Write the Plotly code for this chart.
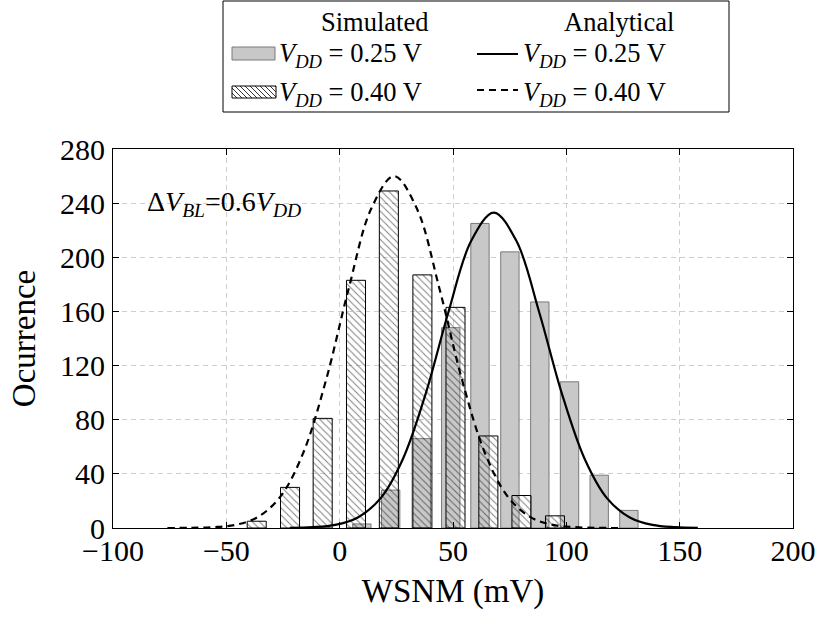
import plotly.graph_objects as go

# simulated histograms (bin centre in mV, count)
sim_x_025 = [9.8, 22.5, 36.0, 49.0, 61.9, 75.1, 88.3, 101.4, 114.5, 127.6]
sim_y_025 = [3, 28, 66, 148, 225, 204, 167, 108, 39, 13]
sim_x_040 = [-36.6, -21.9, -7.5, 7.2, 21.7, 36.5, 51.1, 65.6, 80.2, 95.0]
sim_y_040 = [5, 30, 81, 183, 249, 187, 163, 68, 24, 9]

# analytical curves
ana_x_025 = [-22, -12, -2, 8, 18, 28, 38, 48, 58, 68, 78, 88, 98, 108, 118, 128, 138, 148, 158]
ana_y_025 = [0.1, 0.6, 2.3, 7.8, 21.9, 51.4, 99.5, 159.6, 212.0, 233, 212.0, 159.6, 99.5, 51.4,
             21.9, 7.8, 2.3, 0.6, 0.1]
ana_x_040 = [-76, -66, -56, -46, -36, -26, -16, -6, 4, 14, 24, 34, 44, 54, 64, 74, 84, 94, 104, 114, 124]
ana_y_040 = [0.0, 0.1, 0.6, 2.3, 8.2, 23.5, 55.8, 109.4, 177.0, 236.2, 260, 236.2, 177.0, 109.4,
             55.8, 23.5, 8.2, 2.3, 0.6, 0.1, 0.0]

x_ticks = [-100, -50, 0, 50, 100, 150, 200]
x_tick_labels = ["\u2212100", "\u221250", "0", "50", "100", "150", "200"]
y_ticks = [0, 40, 80, 120, 160, 200, 240, 280]

FONT = "'Liberation Serif', 'Times New Roman', Times, serif"

# plot area in pixels (used to place the hand made legend)
L, R, T, B = 113, 793, 149, 528
W, H = R - L, B - T


def px(x):
    return (x - L) / W


def py(y):
    return (B - y) / H


fig = go.Figure()

fig.add_trace(go.Bar(
    x=sim_x_025, y=sim_y_025, width=8.1,
    marker=dict(color="#c8c8c8", line=dict(color="#7a7a7a", width=1)),
    showlegend=False
))

fig.add_trace(go.Bar(
    x=sim_x_040, y=sim_y_040, width=8.4,
    marker=dict(
        color="rgba(0,0,0,0)",
        line=dict(color="black", width=1),
        pattern=dict(shape="\\", fgcolor="black", bgcolor="rgba(0,0,0,0)",
                     size=5, solidity=0.2)
    ),
    showlegend=False
))

fig.add_trace(go.Scatter(
    x=ana_x_025, y=ana_y_025, mode="lines",
    line=dict(color="black", width=2.2, shape="spline"),
    showlegend=False
))

fig.add_trace(go.Scatter(
    x=ana_x_040, y=ana_y_040, mode="lines",
    line=dict(color="black", width=2.2, shape="spline", dash="7px,5px"),
    showlegend=False
))

# legend drawn by hand (two column layout)
shapes = [
    dict(type="rect", xref="paper", yref="paper",
         x0=px(223), x1=px(729), y0=py(112), y1=py(1),
         line=dict(color="black", width=1), fillcolor="white", layer="above"),
    dict(type="rect", xref="paper", yref="paper",
         x0=px(232), x1=px(275), y0=py(60), y1=py(47),
         line=dict(color="#7a7a7a", width=1), fillcolor="#c8c8c8", layer="above"),
    dict(type="rect", xref="paper", yref="paper",
         x0=px(232), x1=px(276), y0=py(98), y1=py(86),
         line=dict(color="black", width=1), fillcolor="white", layer="above"),
    dict(type="line", xref="paper", yref="paper",
         x0=px(477), x1=px(518), y0=py(54), y1=py(54),
         line=dict(color="black", width=2.2), layer="above"),
    dict(type="line", xref="paper", yref="paper",
         x0=px(477), x1=px(518), y0=py(90), y1=py(90),
         line=dict(color="black", width=2.2, dash="7px,5px"), layer="above"),
]

# hatch lines of the legend patch
hx0, hx1, hy0, hy1 = 232, 276, 86, 98
step = 5
s = hx0 - (hy1 - hy0)
while s < hx1:
    a_x, a_y = s, hy0
    b_x, b_y = s + (hy1 - hy0), hy1
    if a_x < hx0:
        a_y += hx0 - a_x
        a_x = hx0
    if b_x > hx1:
        b_y -= b_x - hx1
        b_x = hx1
    if b_x > a_x:
        shapes.append(dict(type="line", xref="paper", yref="paper",
                           x0=px(a_x), x1=px(b_x), y0=py(a_y), y1=py(b_y),
                           line=dict(color="black", width=0.8), layer="above"))
    s += step

vdd = "<i>V</i><sub><i>DD</i></sub>"
leg_font = dict(family=FONT, size=26.5, color="black")
annotations = [
    dict(text="Simulated", x=px(430), y=py(22), xanchor="right", yanchor="middle"),
    dict(text="Analytical", x=px(676), y=py(22), xanchor="right", yanchor="middle"),
    dict(text=vdd + " = 0.25 V", x=px(277), y=py(55), xanchor="left", yanchor="middle"),
    dict(text=vdd + " = 0.40 V", x=px(277), y=py(94), xanchor="left", yanchor="middle"),
    dict(text=vdd + " = 0.25 V", x=px(521), y=py(55), xanchor="left", yanchor="middle"),
    dict(text=vdd + " = 0.40 V", x=px(521), y=py(94), xanchor="left", yanchor="middle"),
]
for a in annotations:
    a.update(xref="paper", yref="paper", showarrow=False, font=leg_font)

annotations.append(dict(
    text="\u0394<i>V</i><sub><i>BL</i></sub>=0.6" + vdd,
    x=px(145), y=py(203), xref="paper", yref="paper",
    xanchor="left", yanchor="middle", showarrow=False,
    font=dict(family=FONT, size=28, color="black")
))

fig.update_xaxes(
    range=[-100, 200],
    tickvals=x_ticks, ticktext=x_tick_labels,
    ticks="inside", ticklen=6, tickcolor="black",
    showline=True, linecolor="black", linewidth=1, mirror="ticks",
    showgrid=True, gridcolor="#cfcfcf", griddash="5px,4px", gridwidth=1,
    zeroline=False,
    title=dict(text="WSNM (mV)", font=dict(family=FONT, size=33), standoff=12),
    tickfont=dict(family=FONT, size=30, color="black"),
    ticklabeloverflow="allow",
    ticklabelstandoff=-4,
    automargin=False
)

fig.update_yaxes(
    range=[0, 280],
    tickvals=y_ticks,
    ticks="inside", ticklen=6, tickcolor="black",
    showline=True, linecolor="black", linewidth=1, mirror="ticks",
    showgrid=True, gridcolor="#cfcfcf", griddash="5px,4px", gridwidth=1,
    zeroline=False,
    title=dict(text="Ocurrence", font=dict(family=FONT, size=33), standoff=14),
    tickfont=dict(family=FONT, size=30, color="black"),
    ticklabelstandoff=1,
    automargin=False
)

fig.update_layout(
    width=819, height=617,
    margin=dict(l=L, r=819 - R, t=T, b=617 - B),
    plot_bgcolor="white", paper_bgcolor="white",
    barmode="overlay",
    font=dict(family=FONT, color="black"),
    shapes=shapes,
    annotations=annotations
)

# page has a default 8px body margin, drop it so the figure fills the window
fig.write_html("out.html", config={"displayModeBar": False},
               post_script="document.body.style.margin = '0';")
